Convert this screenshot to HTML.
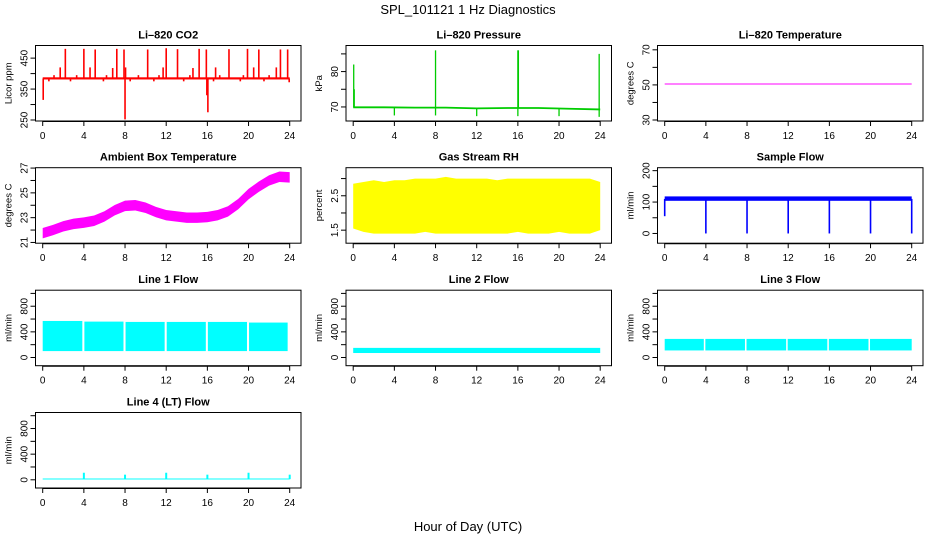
<!DOCTYPE html>
<html><head><meta charset="utf-8">
<style>
html,body{margin:0;padding:0;background:#fff;}
svg{display:block;font-family:"Liberation Sans",Arial,sans-serif;}
</style></head>
<body>
<svg id="chart" width="936" height="540" viewBox="0 0 936 540" xmlns="http://www.w3.org/2000/svg">
<text x="468" y="14" text-anchor="middle" font-size="13">SPL_101121  1 Hz Diagnostics</text>
<text x="468" y="531" text-anchor="middle" font-size="13">Hour of Day (UTC)</text>
</svg>
<script>
// ---- data ----
const xTicks = [0,4,8,12,16,20,24];
const co2Base = [381, 388];
const co2SpikeHours = [2.2,4.0,5.1,7.2,7.9,10.2,12.0,13.1,15.2,15.9,18.1,19.9,21.0,23.1,23.8,1.7,4.6,6.8,8.05,11.7,14.6,16.8,20.5,22.7,1.1,3.3,6.2,9.3,11.3,14.3,17.2,19.5,22.0,0.05,8.0,16.05,15.95,23.95,0.6,2.7,5.9,8.5,10.8,13.7,16.6,19.2,21.5];
const co2SpikeVals  = [480,480,478,480,478,478,482,479,480,478,479,480,478,478,478,420,420,418,420,420,418,420,420,420,395,395,395,395,395,395,395,395,395,315,252,275,330,372,375,375,375,375,375,375,375,375,375];
const presHours = [0,3,6,9,12,15,18,21,24];
const presVals  = [69.9,69.9,69.8,69.8,69.6,69.7,69.7,69.5,69.3];
const presSpikeHours = [0.05,0.1,8.0,16.0,16.05,23.9,4.0,8.0,12.0,16.0,20.0,23.9];
const presSpikeVals  = [82,75,86,86,86,85,67.6,67.6,67.4,67.4,67.4,67.2];
const tempHours = [0,24];
const tempVals = [50.5,50.5];
const ambHours = [0,1,2,3,4,5,6,7,8,9,10,11,12,13,14,15,16,17,18,19,20,21,22,23,24];
const ambVals  = [21.75,22.0,22.3,22.5,22.6,22.75,23.1,23.6,23.95,24.0,23.8,23.45,23.2,23.1,23.0,23.0,23.05,23.2,23.5,24.1,24.9,25.5,26.0,26.3,26.25];
const rhHours = [0,1,2,3,4,5,6,7,8,9,10,11,12,13,14,15,16,17,18,19,20,21,22,23,24];
const rhLo = [1.55,1.45,1.4,1.4,1.4,1.4,1.4,1.45,1.4,1.4,1.4,1.4,1.4,1.4,1.4,1.4,1.45,1.4,1.4,1.4,1.45,1.4,1.4,1.4,1.5];
const rhHi = [2.85,2.9,2.95,2.9,2.95,2.95,3.0,3.0,3.0,3.05,3.0,3.0,3.0,3.0,2.95,3.0,3.0,3.0,3.0,3.0,3.0,3.0,3.0,3.0,2.9];
const sfBand = [104,118];
const sfDropHours = [0.0,4.0,8.0,12.0,16.0,20.0,24.0];
const sfDropVals  = [55,0,0,0,0,0,0];
const l1Lo = [100,100,100,100,100,100];
const l1Hi = [570,560,555,555,555,545];
const l1Start = [0,4.05,8.05,12.05,16.05,20.05];
const l1End = [3.85,7.85,11.85,15.85,19.85,23.8];
const l2Band = [70,150];
const l3Lo = [110,110,110,110,110,110];
const l3Hi = [290,290,290,290,290,290];
const l3Start = [0,3.95,7.95,11.95,15.95,19.95];
const l3End = [3.8,7.8,11.8,15.8,19.8,24.0];
const l4Band = [5,20];
const l4SpikeHours = [4.0,8.0,12.0,16.0,20.0,24.0];
const l4SpikeVals  = [110,80,110,80,110,80];

const svg = document.getElementById('chart');
const NS = 'http://www.w3.org/2000/svg';
function el(tag, attrs, parent){ const e=document.createElementNS(NS,tag); for(const k in attrs) e.setAttribute(k,attrs[k]); (parent||svg).appendChild(e); return e; }

const colLeft=[35.5,346,657.5], rowTop=[45.5,167.7,290.2,412.5], W=265.5, H=75.5;

function makePanel(col,row,title,ylabel,ylim,ticks,labels,name){
  const L=colLeft[col], T=rowTop[row];
  const g=el('g',{});
  
  
  const x0=L+7.2, xs=247/24;
  const X=h=>x0+h*xs;
  const Y=v=>T+H-(v-ylim[0])/(ylim[1]-ylim[0])*H;
  const box=el('rect',{x:L,y:T,width:W,height:H,fill:'none',stroke:'#000','stroke-width':1},g);
  
  
  const t=el('text',{x:L+W/2,y:T-7,'text-anchor':'middle','font-size':11,'font-weight':'bold'},g);
  t.textContent=title;
  
  
  const yl=el('text',{x:0,y:0,'text-anchor':'middle','font-size':9.5,transform:`translate(${L-24},${T+H/2}) rotate(-90)`},g);
  yl.textContent=ylabel;
  
  
  xTicks.forEach(h=>{
    el('line',{x1:X(h),x2:X(h),y1:T+H,y2:T+H+5,stroke:'#000'},g);
    const tx=el('text',{x:X(h),y:T+H+18,'text-anchor':'middle','font-size':10},g);
    tx.textContent=h;
    
    
  });
  el('line',{x1:X(0),x2:X(24),y1:T+H+0.5,y2:T+H+0.5,stroke:'#000'},g);
  ticks.forEach(v=>{
    el('line',{x1:L-5,x2:L,y1:Y(v),y2:Y(v),stroke:'#000'},g);
  });
  labels.forEach(v=>{
    const ty=el('text',{x:0,y:0,'text-anchor':'middle','font-size':10,transform:`translate(${L-8},${Y(v)}) rotate(-90)`},g);
    ty.textContent=String(v);
    
    
  });
  const d=el('g',{},g);
  
  
  return {X,Y,g:d};
}
function vseg(p,h,a,b,color,w){ el('line',{x1:p.X(h),x2:p.X(h),y1:p.Y(a),y2:p.Y(b),stroke:color,'stroke-width':w||1.5},p.g); }
function bandRect(p,h1,h2,a,b,color){ el('rect',{x:p.X(h1),y:p.Y(b),width:p.X(h2)-p.X(h1),height:p.Y(a)-p.Y(b),fill:color},p.g); }

// CO2
let p=makePanel(0,0,'Li\u2013820 CO2','Licor ppm',[246.8,490.8],[250,300,350,400,450],[250,350,450],'co2');
bandRect(p,0,24,co2Base[0],co2Base[1],'#ff0000');
co2SpikeHours.forEach((h,i)=>vseg(p,h,384,co2SpikeVals[i],'#ff0000',1.6));

// Pressure
p=makePanel(1,0,'Li\u2013820 Pressure','kPa',[66.03,87.37],[70,75,80,85],[70,80],'pressure');
el('polyline',{points:presHours.map((h,i)=>p.X(h)+','+p.Y(presVals[i])).join(' '),fill:'none',stroke:'#00cc00','stroke-width':1.8},p.g);
presSpikeHours.forEach((h,i)=>vseg(p,h,presVals[Math.min(8,Math.round(h/3))],presSpikeVals[i],'#00cc00',1.3));

// Temperature
p=makePanel(2,0,'Li\u2013820 Temperature','degrees C',[29.43,72.46],[30,40,50,60,70],[30,50,70],'temperature');
el('polyline',{points:tempHours.map((h,i)=>p.X(h)+','+p.Y(tempVals[i])).join(' '),fill:'none',stroke:'#ff00ff','stroke-width':1},p.g);

// Ambient
p=makePanel(0,1,'Ambient Box Temperature','degrees C',[20.94,27.03],[21,22,23,24,25,26,27],[21,23,25,27],'ambient');
{ const up=ambHours.map((h,i)=>p.X(h)+','+p.Y(ambVals[i]+0.42));
  const dn=ambHours.map((h,i)=>p.X(h)+','+p.Y(ambVals[i]-0.42)).reverse();
  el('polygon',{points:up.concat(dn).join(' '),fill:'#ff00ff'},p.g); }

// RH
p=makePanel(1,1,'Gas Stream RH','percent',[1.121,3.316],[1.5,2.0,2.5,3.0],[1.5,2.5],'rh');
{ const up=rhHours.map((h,i)=>p.X(h)+','+p.Y(rhHi[i]));
  const dn=rhHours.map((h,i)=>p.X(h)+','+p.Y(rhLo[i])).reverse();
  el('polygon',{points:up.concat(dn).join(' '),fill:'#ffff00'},p.g); }

// Sample flow
p=makePanel(2,1,'Sample Flow','ml/min',[-31,209.4],[0,50,100,150,200],[0,100,200],'sample-flow');
bandRect(p,0,24,sfBand[0],sfBand[1],'#0000ff');
sfDropHours.forEach((h,i)=>vseg(p,h,110,sfDropVals[i],'#0000ff',1.6));

// Line 1
p=makePanel(0,2,'Line 1 Flow','ml/min',[-128,1050],[0,200,400,600,800,1000],[0,400,800],'line1');
l1Start.forEach((s,i)=>bandRect(p,s,l1End[i],l1Lo[i],l1Hi[i],'#00ffff'));
// Line 2
p=makePanel(1,2,'Line 2 Flow','ml/min',[-128,1050],[0,200,400,600,800,1000],[0,400,800],'line2');
bandRect(p,0,24,l2Band[0],l2Band[1],'#00ffff');
// Line 3
p=makePanel(2,2,'Line 3 Flow','ml/min',[-128,1050],[0,200,400,600,800,1000],[0,400,800],'line3');
l3Start.forEach((s,i)=>bandRect(p,s,l3End[i],l3Lo[i],l3Hi[i],'#00ffff'));
// Line 4
p=makePanel(0,3,'Line 4 (LT) Flow','ml/min',[-128,1050],[0,200,400,600,800,1000],[0,400,800],'line4');
bandRect(p,0,24,l4Band[0],l4Band[1],'#00ffff');
l4SpikeHours.forEach((h,i)=>vseg(p,h,10,l4SpikeVals[i],'#00ffff',2));
</script>
</body></html>
